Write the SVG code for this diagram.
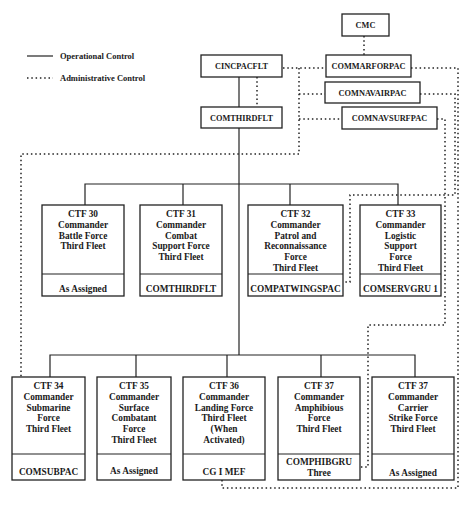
<svg xmlns="http://www.w3.org/2000/svg" width="474" height="505" viewBox="0 0 474 505">
<style>
.bg{fill:#fff}
.box{fill:#fff;stroke:#222;stroke-width:1.3}
.div{stroke:#222;stroke-width:1.1}
.op{fill:none;stroke:#222;stroke-width:1.2}
.ad{fill:none;stroke:#222;stroke-width:1.5;stroke-dasharray:1.5 2.8}
text{font-family:"Liberation Serif","Times New Roman",serif;font-weight:bold;fill:#1a1a1a;text-anchor:middle}
.t{font-size:8.3px}
.b{font-size:9.3px}
.lg{font-size:8.5px;text-anchor:start}
</style>
<rect class="bg" width="474" height="505"/>
<g id="legend">
<line class="op" x1="27" y1="56" x2="53" y2="56"/>
<text class="lg" x="60" y="59">Operational Control</text>
<line class="ad" x1="27" y1="78" x2="53" y2="78"/>
<text class="lg" x="60" y="81">Administrative Control</text>
</g>
<g id="connectors">
<line class="op" x1="239" y1="77" x2="239" y2="107"/>
<line class="op" x1="239" y1="128" x2="239" y2="355"/>
<polyline class="op" points="85,205 85,184 398,184 398,205"/>
<line class="op" x1="183" y1="184" x2="183" y2="205"/>
<line class="op" x1="290" y1="184" x2="290" y2="205"/>
<polyline class="op" points="50,377 50,355 415,355 415,377"/>
<line class="op" x1="136" y1="355" x2="136" y2="377"/>
<line class="op" x1="227" y1="355" x2="227" y2="377"/>
<line class="op" x1="321" y1="355" x2="321" y2="377"/>
<line class="ad" x1="364" y1="36" x2="364" y2="55"/>
<line class="ad" x1="257" y1="77" x2="257" y2="107"/>
<line class="ad" x1="283" y1="68" x2="326" y2="68"/>
<polyline class="ad" points="299,68 299,154 21,154 21,377"/>
<line class="ad" x1="299" y1="94" x2="325" y2="94"/>
<line class="ad" x1="299" y1="119" x2="342" y2="119"/>
<polyline class="ad" points="411,68 458,68 458,488 222,488 222,480"/>
<polyline class="ad" points="420,94 455,94 455,195 350,195 350,282 343,282"/>
<polyline class="ad" points="437,119 445,119 445,325 368,325 368,467 360,467"/>
</g>
<g id="cmc"><rect class="box" x="342" y="14" width="47" height="22"/><text class="t" x="365.5" y="28">CMC</text></g>
<g id="cincpacflt"><rect class="box" x="201" y="55" width="81" height="22"/><text class="t" x="241.5" y="69">CINCPACFLT</text></g>
<g id="comthirdflt"><rect class="box" x="201" y="107" width="81" height="21"/><text class="t" x="241.5" y="120.5">COMTHIRDFLT</text></g>
<g id="commarforpac"><rect class="box" x="326" y="55" width="85" height="22"/><text class="t" x="368.5" y="69">COMMARFORPAC</text></g>
<g id="comnavairpac"><rect class="box" x="325" y="82" width="95" height="21"/><text class="t" x="372.5" y="95.5">COMNAVAIRPAC</text></g>
<g id="comnavsurfpac"><rect class="box" x="342" y="107" width="95" height="22"/><text class="t" x="389.5" y="121">COMNAVSURFPAC</text></g>

<g id="ctf30"><rect class="box" x="42" y="205" width="82" height="91"/><line class="div" x1="42" y1="274" x2="124" y2="274"/>
<text class="b" y="217.3"><tspan x="83">CTF 30</tspan><tspan x="83" dy="10.7">Commander</tspan><tspan x="83" dy="10.7">Battle Force</tspan><tspan x="83" dy="10.7">Third Fleet</tspan></text>
<text class="b" x="83" y="292">As Assigned</text></g>
<g id="ctf31"><rect class="box" x="140" y="205" width="82" height="91"/><line class="div" x1="140" y1="274" x2="222" y2="274"/>
<text class="b" y="217.3"><tspan x="181">CTF 31</tspan><tspan x="181" dy="10.7">Commander</tspan><tspan x="181" dy="10.7">Combat</tspan><tspan x="181" dy="10.7">Support Force</tspan><tspan x="181" dy="10.7">Third Fleet</tspan></text>
<text class="b" x="181" y="292">COMTHIRDFLT</text></g>
<g id="ctf32"><rect class="box" x="248" y="205" width="95" height="91"/><line class="div" x1="248" y1="274" x2="343" y2="274"/>
<text class="b" y="217.3"><tspan x="295.5">CTF 32</tspan><tspan x="295.5" dy="10.7">Commander</tspan><tspan x="295.5" dy="10.7">Patrol and</tspan><tspan x="295.5" dy="10.7">Reconnaissance</tspan><tspan x="295.5" dy="10.7">Force</tspan><tspan x="295.5" dy="10.7">Third Fleet</tspan></text>
<text class="b" x="295.5" y="292">COMPATWINGSPAC</text></g>
<g id="ctf33"><rect class="box" x="360" y="205" width="81" height="91"/><line class="div" x1="360" y1="274" x2="441" y2="274"/>
<text class="b" y="217.3"><tspan x="400.5">CTF 33</tspan><tspan x="400.5" dy="10.7">Commander</tspan><tspan x="400.5" dy="10.7">Logistic</tspan><tspan x="400.5" dy="10.7">Support</tspan><tspan x="400.5" dy="10.7">Force</tspan><tspan x="400.5" dy="10.7">Third Fleet</tspan></text>
<text class="b" x="400.5" y="292">COMSERVGRU 1</text></g>

<g id="ctf34"><rect class="box" x="12" y="377" width="73" height="103"/><line class="div" x1="12" y1="454" x2="85" y2="454"/>
<text class="b" y="389.3"><tspan x="48.5">CTF 34</tspan><tspan x="48.5" dy="10.7">Commander</tspan><tspan x="48.5" dy="10.7">Submarine</tspan><tspan x="48.5" dy="10.7">Force</tspan><tspan x="48.5" dy="10.7">Third Fleet</tspan></text>
<text class="b" x="48.5" y="475">COMSUBPAC</text></g>
<g id="ctf35"><rect class="box" x="97" y="377" width="74" height="103"/><line class="div" x1="97" y1="454" x2="171" y2="454"/>
<text class="b" y="389.3"><tspan x="134">CTF 35</tspan><tspan x="134" dy="10.7">Commander</tspan><tspan x="134" dy="10.7">Surface</tspan><tspan x="134" dy="10.7">Combatant</tspan><tspan x="134" dy="10.7">Force</tspan><tspan x="134" dy="10.7">Third Fleet</tspan></text>
<text class="b" x="134" y="474">As Assigned</text></g>
<g id="ctf36"><rect class="box" x="183" y="377" width="82" height="103"/><line class="div" x1="183" y1="454" x2="265" y2="454"/>
<text class="b" y="389.3"><tspan x="224">CTF 36</tspan><tspan x="224" dy="10.7">Commander</tspan><tspan x="224" dy="10.7">Landing Force</tspan><tspan x="224" dy="10.7">Third Fleet</tspan><tspan x="224" dy="10.7">(When</tspan><tspan x="224" dy="10.7">Activated)</tspan></text>
<text class="b" x="224" y="475">CG I MEF</text></g>
<g id="ctf37a"><rect class="box" x="278" y="377" width="82" height="103"/><line class="div" x1="278" y1="454" x2="360" y2="454"/>
<text class="b" y="389.3"><tspan x="319">CTF 37</tspan><tspan x="319" dy="10.7">Commander</tspan><tspan x="319" dy="10.7">Amphibious</tspan><tspan x="319" dy="10.7">Force</tspan><tspan x="319" dy="10.7">Third Fleet</tspan></text>
<text class="b" y="465"><tspan x="319">COMPHIBGRU</tspan><tspan x="319" dy="10.5">Three</tspan></text></g>
<g id="ctf37c"><rect class="box" x="372" y="377" width="82" height="103"/><line class="div" x1="372" y1="454" x2="454" y2="454"/>
<text class="b" y="389.3"><tspan x="413">CTF 37</tspan><tspan x="413" dy="10.7">Commander</tspan><tspan x="413" dy="10.7">Carrier</tspan><tspan x="413" dy="10.7">Strike Force</tspan><tspan x="413" dy="10.7">Third Fleet</tspan></text>
<text class="b" x="413" y="476">As Assigned</text></g>
</svg>
